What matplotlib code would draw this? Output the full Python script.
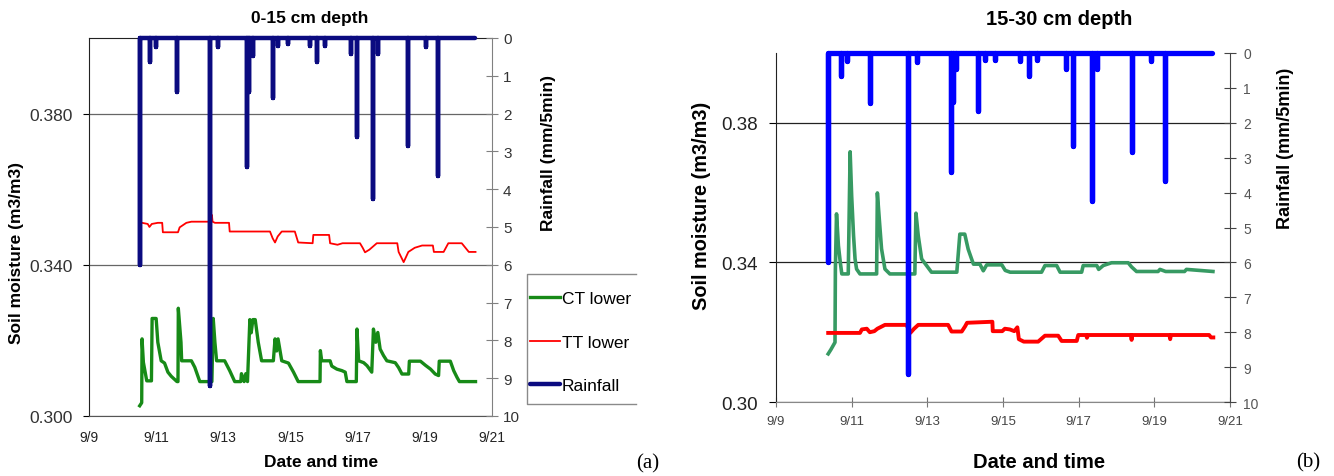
import numpy as np
import matplotlib
matplotlib.use("Agg")
import matplotlib.pyplot as plt
from matplotlib.lines import Line2D
from matplotlib.ticker import FormatStrFormatter

plt.rcParams['font.family'] = ['Liberation Sans', 'DejaVu Sans']

# time axis: days after 9/9 00:00
day_ticks = [0, 2, 4, 6, 8, 10, 12]
day_labels = ['9/9', '9/11', '9/13', '9/15', '9/17', '9/19', '9/21']

# ---- 0-15 cm depth ----
ct_a_day = [1.51, 1.57, 1.58, 1.62, 1.72, 1.86, 1.88, 2.00, 2.05, 2.15, 2.25, 2.35, 2.45, 2.62,
            2.65, 2.66, 2.74, 2.76, 3.05, 3.15, 3.30, 3.66, 3.70, 3.75, 3.80, 4.04, 4.19, 4.34,
            4.52, 4.54, 4.62, 4.67, 4.72, 4.79, 4.83, 4.88, 4.95, 5.04, 5.14, 5.49, 5.54, 5.59,
            5.63, 5.74, 5.94, 6.09, 6.23, 6.88, 6.89, 6.93, 7.18, 7.23, 7.38, 7.53, 7.63, 7.68,
            7.96, 7.98, 8.03, 8.18, 8.28, 8.42, 8.47, 8.54, 8.60, 8.67, 8.77, 8.87, 9.12, 9.22,
            9.32, 9.52, 9.54, 9.87, 10.02, 10.17, 10.31, 10.41, 10.43, 10.76, 10.86, 10.96,
            11.03, 11.51]
ct_a_vwc = [0.3027, 0.3035, 0.3204, 0.3142, 0.3093, 0.3093, 0.3258, 0.3258, 0.3195, 0.3146,
            0.3140, 0.3116, 0.3105, 0.3091, 0.3091, 0.3285, 0.3195, 0.3146, 0.3146, 0.3129,
            0.3091, 0.3091, 0.3258, 0.3195, 0.3146, 0.3146, 0.3120, 0.3091, 0.3091, 0.3112,
            0.3091, 0.3112, 0.3091, 0.3255, 0.3220, 0.3255, 0.3255, 0.3195, 0.3146, 0.3146,
            0.3204, 0.3172, 0.3204, 0.3146, 0.3140, 0.3116, 0.3091, 0.3091, 0.3173, 0.3146,
            0.3146, 0.3132, 0.3124, 0.3120, 0.3116, 0.3091, 0.3091, 0.3230, 0.3146, 0.3141,
            0.3133, 0.3116, 0.3230, 0.3195, 0.3221, 0.3177, 0.3160, 0.3146, 0.3141, 0.3128,
            0.3111, 0.3111, 0.3145, 0.3145, 0.3134, 0.3124, 0.3111, 0.3107, 0.3145, 0.3145,
            0.3120, 0.3102, 0.3091, 0.3091]

tt_a_day = [1.58, 1.75, 1.80, 1.87, 2.05, 2.18, 2.20, 2.65, 2.70, 2.80, 2.90, 3.05, 3.64, 3.66,
            3.68, 3.75, 4.17, 4.19, 5.39, 5.47, 5.54, 5.62, 5.74, 6.13, 6.23, 6.66, 6.68, 7.15,
            7.18, 7.40, 7.55, 8.07, 8.15, 8.22, 8.35, 8.57, 9.18, 9.22, 9.37, 9.51, 9.70, 9.92,
            10.24, 10.27, 10.56, 10.70, 11.10, 11.31, 11.51]
tt_a_vwc = [0.3511, 0.3508, 0.3500, 0.3508, 0.3511, 0.3511, 0.3486, 0.3486, 0.3499, 0.3505,
            0.3511, 0.3514, 0.3514, 0.3532, 0.3514, 0.3511, 0.3511, 0.3488, 0.3488, 0.3470,
            0.3459, 0.3475, 0.3488, 0.3488, 0.3459, 0.3457, 0.3479, 0.3479, 0.3457, 0.3453,
            0.3457, 0.3457, 0.3445, 0.3433, 0.3440, 0.3457, 0.3457, 0.3434, 0.3407, 0.3434,
            0.3445, 0.3451, 0.3451, 0.3434, 0.3434, 0.3457, 0.3457, 0.3434, 0.3434]

rain_a_day = [1.51, 1.81, 2.01, 2.61, 3.60, 3.84, 4.70, 4.76, 4.88, 5.48, 5.63, 5.93,
              6.58, 6.78, 7.03, 7.81, 7.99, 8.46, 8.61, 9.51, 10.04, 10.40]
rain_a_mm = [6.0, 0.63, 0.24, 1.43, 9.2, 0.24, 3.42, 1.43, 0.47, 1.6, 0.2, 0.15,
             0.2, 0.63, 0.2, 0.42, 2.63, 4.25, 0.42, 2.85, 0.25, 3.64]
rain_a_end = 11.50

# ---- 15-30 cm depth ----
ct_b_day = [1.38, 1.45, 1.56, 1.57, 1.60, 1.65, 1.70, 1.74, 1.91, 1.96, 2.00, 2.05, 2.09, 2.13,
            2.22, 2.66, 2.68, 2.73, 2.79, 2.88, 3.01, 3.67, 3.70, 3.76, 3.85, 3.98, 4.11, 4.78,
            4.86, 4.99, 5.08, 5.17, 5.22, 5.39, 5.48, 5.57, 5.97, 6.06, 6.19, 7.02, 7.11, 7.42,
            7.51, 8.08, 8.12, 8.48, 8.53, 8.65, 8.87, 9.31, 9.40, 9.53, 10.10, 10.15, 10.30,
            10.80, 10.85, 11.55]
ct_b_vwc = [0.3138, 0.3150, 0.3171, 0.3380, 0.3539, 0.3448, 0.3400, 0.3367, 0.3367, 0.3717,
            0.3591, 0.3477, 0.3410, 0.3381, 0.3367, 0.3367, 0.3599, 0.3525, 0.3439, 0.3381,
            0.3367, 0.3367, 0.3541, 0.3477, 0.3410, 0.3391, 0.3372, 0.3372, 0.3481, 0.3481,
            0.3438, 0.3410, 0.3395, 0.3395, 0.3376, 0.3393, 0.3393, 0.3377, 0.3372, 0.3372,
            0.3391, 0.3391, 0.3372, 0.3372, 0.3391, 0.3391, 0.3380, 0.3391, 0.3399, 0.3399,
            0.3387, 0.3374, 0.3374, 0.3380, 0.3374, 0.3374, 0.3380, 0.3374]

tt_b_day = [1.38, 2.22, 2.27, 2.40, 2.48, 2.60, 2.68, 2.88, 3.45, 3.55, 3.65, 3.76, 4.55, 4.64,
            4.91, 5.00, 5.05, 5.72, 5.73, 5.98, 6.05, 6.18, 6.30, 6.38, 6.42, 6.55, 6.93, 7.11,
            7.46, 7.55, 7.95, 7.99, 8.20, 8.22, 8.25, 9.38, 9.40, 9.42, 10.40, 10.42, 10.44,
            11.45, 11.50, 11.56]
tt_b_vwc = [0.3198, 0.3198, 0.3208, 0.3210, 0.3200, 0.3203, 0.3210, 0.3221, 0.3221, 0.3198,
            0.3210, 0.3221, 0.3221, 0.3202, 0.3202, 0.3217, 0.3227, 0.3230, 0.3203, 0.3203,
            0.3210, 0.3208, 0.3203, 0.3214, 0.3180, 0.3173, 0.3173, 0.3190, 0.3190, 0.3175,
            0.3175, 0.3192, 0.3192, 0.3184, 0.3192, 0.3192, 0.3178, 0.3192, 0.3192, 0.3180,
            0.3192, 0.3192, 0.3185, 0.3185]

rain_b_day = [1.37, 1.71, 1.87, 2.48, 3.49, 3.73, 4.62, 4.68, 4.77, 5.34, 5.53, 5.79,
              6.45, 6.70, 6.89, 7.66, 7.86, 8.35, 8.49, 9.40, 9.90, 10.28]
rain_b_mm = [6.0, 0.65, 0.22, 1.43, 9.2, 0.25, 3.42, 1.41, 0.45, 1.65, 0.2, 0.2,
             0.22, 0.65, 0.2, 0.46, 2.66, 4.23, 0.46, 2.85, 0.22, 3.66]
rain_b_end = 11.52


def rain_trace(days, mm, end):
    # each 5-min total drops from the zero line and returns to it
    t = np.repeat(days, 3)
    v = np.column_stack([np.zeros(len(mm)), mm, np.zeros(len(mm))]).ravel()
    return np.append(t, end), np.append(v, 0.0)


fig = plt.figure(figsize=(13.34, 4.77), dpi=100)

# ---------- panel (a) ----------
ax_a = fig.add_axes([0.0667, 0.1258, 0.3021, 0.7925])
l_ct, = ax_a.plot(ct_a_day, ct_a_vwc, color='#178a17', lw=2.4)
l_tt, = ax_a.plot(tt_a_day, tt_a_vwc, color='#ff0000', lw=1.3)
ax_a.set_xlim(0, 12)
ax_a.set_ylim(0.30, 0.40)
ax_a.set_yticks([0.30, 0.34, 0.38])
ax_a.yaxis.set_major_formatter(FormatStrFormatter('%.3f'))
ax_a.set_xticks(day_ticks)
ax_a.set_xticklabels(day_labels)
ax_a.yaxis.grid(True, color='#666666', lw=0.9)
ax_a.tick_params(axis='y', direction='out', length=4, pad=8, labelsize=12.5, labelcolor='#333333')
ax_a.tick_params(axis='x', length=0, pad=10, labelsize=10, labelcolor='#222222')
ax_a.spines['right'].set_visible(False)
ax_a.spines['top'].set_color('#222222')
ax_a.spines['left'].set_color('#222222')
ax_a.spines['bottom'].set_color('#555555')

rt_a = ax_a.twinx()
rx, ry = rain_trace(rain_a_day, rain_a_mm, rain_a_end)
l_rain, = rt_a.plot(rx, ry, color='#0b0b80', lw=3.2, solid_capstyle='round', clip_on=False)
rt_a.set_ylim(10, 0)
rt_a.set_yticks(range(11))
rt_a.tick_params(axis='y', direction='inout', length=8, pad=4, labelsize=11,
                 color='#808080', labelcolor='#333333')
for side in ['top', 'left', 'bottom']:
    rt_a.spines[side].set_visible(False)
rt_a.spines['right'].set_color('#808080')

rt_a.legend([l_ct, l_tt, l_rain], ['CT lower', 'TT lower', 'Rainfall'],
            loc='upper left', bbox_to_anchor=(0.3973, 0.388), bbox_transform=fig.transFigure,
            frameon=False, fontsize=12.5, handlelength=1.75, handletextpad=0.1,
            labelspacing=1.64, borderpad=0, borderaxespad=0)
fig.add_artist(Line2D([0.4768, 0.3951, 0.3951, 0.4768], [0.4235, 0.4235, 0.1509, 0.1509],
                      color='#8a8a8a', lw=1))

fig.text(0.2324, 0.962, '0-15 cm depth', ha='center', va='center', fontsize=12.5, fontweight='bold')
fig.text(0.2406, 0.031, 'Date and time', ha='center', va='center', fontsize=12.5, fontweight='bold')
fig.text(0.0124, 0.470, 'Soil moisture (m3/m3)', ha='center', va='center', rotation=90,
         fontsize=12.5, fontweight='bold')
fig.text(0.4115, 0.680, 'Rainfall (mm/5min)', ha='center', va='center', rotation=90,
         fontsize=12.5, fontweight='bold')
fig.text(0.4858, 0.027, '(a)', ha='center', va='center', fontsize=15, family='Liberation Serif')

# ---------- panel (b) ----------
ax_b = fig.add_axes([0.5817, 0.1551, 0.3403, 0.7317])
ax_b.plot(ct_b_day, ct_b_vwc, color='#379a63', lw=2.6)
ax_b.plot(tt_b_day, tt_b_vwc, color='#ff0000', lw=2.8)
ax_b.set_xlim(0, 12)
ax_b.set_ylim(0.30, 0.40)
ax_b.set_yticks([0.30, 0.34, 0.38])
ax_b.yaxis.set_major_formatter(FormatStrFormatter('%.2f'))
ax_b.set_xticks(day_ticks)
ax_b.set_xticklabels(day_labels)
ax_b.yaxis.grid(True, color='#222222', lw=0.9)
ax_b.tick_params(axis='y', direction='out', length=5, pad=8, labelsize=13.5, labelcolor='#222222')
ax_b.tick_params(axis='x', direction='inout', length=7, pad=6, labelsize=9.5,
                 color='#777777', labelcolor='#444444')
ax_b.spines['right'].set_visible(False)
ax_b.spines['top'].set_visible(False)
ax_b.spines['left'].set_color('#222222')
ax_b.spines['bottom'].set_color('#888888')

rt_b = ax_b.twinx()
rx, ry = rain_trace(rain_b_day, rain_b_mm, rain_b_end)
rt_b.plot(rx, ry, color='#0000ff', lw=3.8, solid_capstyle='round', clip_on=False)
rt_b.set_ylim(10, 0)
rt_b.set_yticks(range(11))
rt_b.tick_params(axis='y', direction='inout', length=9, pad=5, labelsize=10,
                 color='#444444', labelcolor='#555555')
for side in ['top', 'left', 'bottom']:
    rt_b.spines[side].set_visible(False)
rt_b.spines['right'].set_color('#444444')

fig.text(0.794, 0.959, '15-30 cm depth', ha='center', va='center', fontsize=14.5, fontweight='bold')
fig.text(0.7789, 0.031, 'Date and time', ha='center', va='center', fontsize=14.5, fontweight='bold')
fig.text(0.5262, 0.568, 'Soil moisture (m3/m3)', ha='center', va='center', rotation=90,
         fontsize=14.3, fontweight='bold')
fig.text(0.9633, 0.688, 'Rainfall (mm/5min)', ha='center', va='center', rotation=90,
         fontsize=13, fontweight='bold')
fig.text(0.9805, 0.029, '(b)', ha='center', va='center', fontsize=15, family='Liberation Serif')

fig.savefig('out.png', dpi=100)
